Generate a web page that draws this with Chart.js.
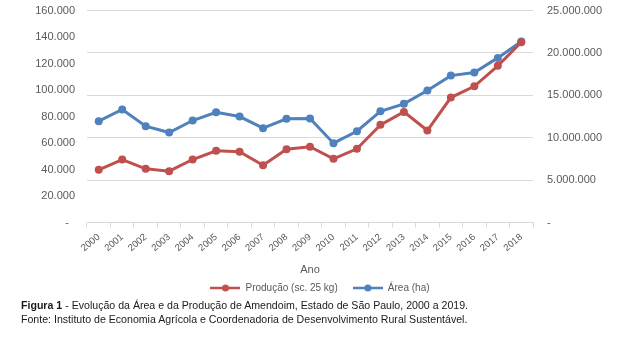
<!DOCTYPE html>
<html lang="pt">
<head>
<meta charset="utf-8">
<title>Amendoim - Estado de São Paulo</title>
<script src="https://cdn.jsdelivr.net/npm/chart.js@4/dist/chart.umd.min.js"></script>
<style>
  html, body { margin: 0; padding: 0; background: #fff; }
  #wrap { position: relative; width: 640px; height: 339px; overflow: hidden; }
  /* o canvas sobe 10px para o topo do gráfico ficar rente à margem */
  #box { position: absolute; left: 0; top: -10px; width: 640px; height: 313px; }
  .legenda { position: absolute; left: 21px; font-family: "Liberation Sans", Arial, sans-serif; font-size: 10.6px; color: #1a1a1a; white-space: nowrap; }
  #fig { top: 299px; }
  #fonte { top: 313px; }
</style>
</head>
<body>
<div id="wrap">
  <div id="box"><canvas id="grafico" width="640" height="313"></canvas></div>
  <div id="fig" class="legenda"><b>Figura 1</b> - Evolução da Área e da Produção de Amendoim, Estado de São Paulo, 2000 a 2019.</div>
  <div id="fonte" class="legenda">Fonte: Instituto de Economia Agrícola e Coordenadoria de Desenvolvimento Rural Sustentável.</div>
</div>
<script>
// anos da série
const anos = ['2000', '2001', '2002', '2003', '2004', '2005', '2006', '2007', '2008', '2009',
              '2010', '2011', '2012', '2013', '2014', '2015', '2016', '2017', '2018'];

// produção em sacas de 25 kg (eixo da direita)
const producao = [6210000, 7430000, 6330000, 6050000, 7430000, 8450000, 8340000, 6760000, 8640000, 8940000,
                  7510000, 8690000, 11520000, 13050000, 10850000, 14740000, 16070000, 18480000, 21260000];

// área em hectares (eixo da esquerda)
const area = [76500, 85300, 72700, 67900, 77000, 83200, 80000, 71200, 78300, 78600,
              59900, 68900, 84000, 89600, 99600, 110900, 113200, 124300, 136600];

// limites dos eixos
const areaMax = 160000, areaPasso = 20000;
const prodMax = 25000000, prodPasso = 5000000;

const VERMELHO = '#C0504D';
const AZUL = '#4F81BD';
const CINZA = '#595959';
const FONTE = '"Liberation Sans", Arial, sans-serif';

// separador de milhar com ponto, zero vira "-"
function formata(v) {
    if (v === 0) return '-';
    return String(Math.round(v)).replace(/\B(?=(\d{3})+(?!\d))/g, '.');
}

// marcador da legenda: linha com bolinha no meio
function marcador(cor) {
    const c = document.createElement('canvas');
    c.width = 30;
    c.height = 10;
    const g = c.getContext('2d');
    g.strokeStyle = cor;
    g.lineWidth = 2.5;
    g.beginPath();
    g.moveTo(0, 5);
    g.lineTo(30, 5);
    g.stroke();
    g.fillStyle = cor;
    g.beginPath();
    g.arc(15, 5, 3.5, 0, Math.PI * 2);
    g.fill();
    return c;
}

const marcadores = [marcador(VERMELHO), marcador(AZUL)];

const ctx = document.getElementById('grafico');

new Chart(ctx, {
    type: 'line',
    data: {
        labels: anos,
        datasets: [
            {
                label: 'Produção (sc. 25 kg)',
                data: producao,
                borderColor: VERMELHO,
                backgroundColor: VERMELHO,
                borderWidth: 3,
                pointStyle: 'circle',
                pointRadius: 4,
                pointBorderWidth: 0,
                tension: 0,
                yAxisID: 'y1'
            },
            {
                label: 'Área (ha)',
                data: area,
                borderColor: AZUL,
                backgroundColor: AZUL,
                borderWidth: 3,
                pointStyle: 'circle',
                pointRadius: 4,
                pointBorderWidth: 0,
                tension: 0,
                yAxisID: 'y'
            }
        ]
    },
    options: {
        responsive: false,
        animation: false,
        events: [],
        layout: {
            padding: { top: 0, left: 0, right: 0, bottom: 0 }
        },
        plugins: {
            legend: {
                display: true,
                position: 'bottom',
                labels: {
                    usePointStyle: true,
                    pointStyleWidth: 30,
                    padding: 4,
                    color: CINZA,
                    font: { family: FONTE, size: 10 },
                    generateLabels: function(chart) {
                        // espaços no fim afastam o segundo item
                        return chart.data.datasets.map((ds, i) => ({
                            text: ds.label + (i === 0 ? '    ' : ''),
                            fillStyle: ds.borderColor,
                            strokeStyle: ds.borderColor,
                            lineWidth: 0,
                            pointStyle: marcadores[i],
                            fontColor: CINZA,
                            datasetIndex: i,
                            hidden: false
                        }));
                    }
                }
            },
            tooltip: { enabled: false }
        },
        scales: {
            x: {
                offset: true,
                grid: {
                    display: true,
                    drawOnChartArea: false,
                    drawTicks: true,
                    tickLength: 5,
                    offset: true,
                    color: '#d9d9d9'
                },
                border: { display: true, color: '#d9d9d9' },
                ticks: {
                    autoSkip: false,
                    minRotation: 40,
                    maxRotation: 40,
                    padding: 4,
                    color: CINZA,
                    font: { family: FONTE, size: 9.5 }
                },
                title: {
                    display: true,
                    text: 'Ano',
                    color: CINZA,
                    padding: { top: 6, bottom: 2 },
                    font: { family: FONTE, size: 11 }
                }
            },
            y: {
                position: 'left',
                min: 0,
                max: areaMax,
                afterFit: function(scale) { scale.width = 87; },
                grid: { display: false, drawTicks: false },
                border: { display: false },
                ticks: {
                    stepSize: areaPasso,
                    padding: 12,
                    color: CINZA,
                    font: { family: FONTE, size: 11 },
                    callback: v => v === 0 ? '-  ' : formata(v)
                }
            },
            y1: {
                position: 'right',
                min: 0,
                max: prodMax,
                afterFit: function(scale) { scale.width = 107; },
                grid: { display: true, drawOnChartArea: true, drawTicks: false, color: '#d9d9d9' },
                border: { display: false },
                ticks: {
                    stepSize: prodPasso,
                    padding: 14,
                    color: CINZA,
                    font: { family: FONTE, size: 11 },
                    callback: v => formata(v)
                }
            }
        }
    }
});
</script>
</body>
</html>
